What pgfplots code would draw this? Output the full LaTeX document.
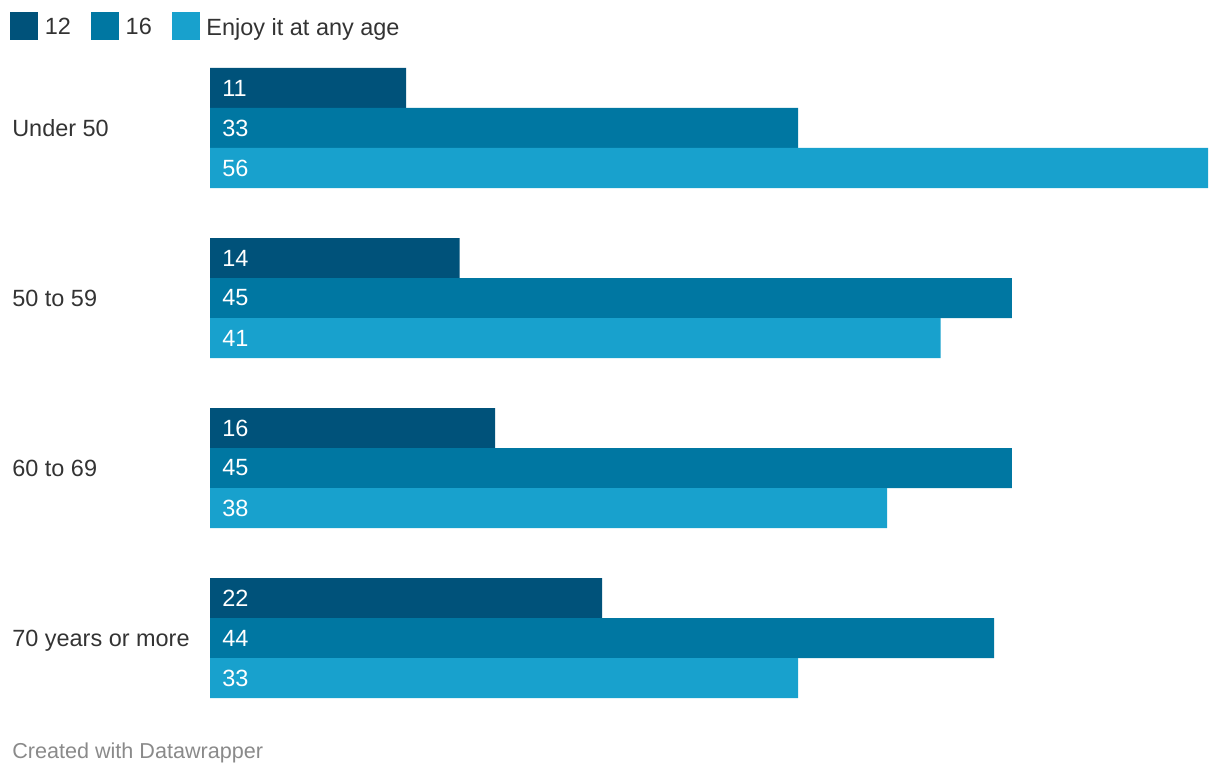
\documentclass[border=0pt]{standalone}
\usepackage{pgfplots}
\pgfplotsset{compat=1.18}
\usepackage{pgfplotstable}
\usepackage{fontspec}
\setmainfont{Liberation Sans}
\definecolor{cA}{HTML}{00527A}
\definecolor{cB}{HTML}{0077A2}
\definecolor{cC}{HTML}{18A1CD}
\definecolor{txt}{HTML}{333333}
\definecolor{foot}{HTML}{8A8A8A}

\pgfplotstableread{
y a b c
-128 11 33 56
-298 14 45 41
-468 16 45 38
-638 22 44 33
}\data

\newcommand{\lblfont}{\fontsize{17.6}{20}\selectfont}

\begin{document}
\begin{tikzpicture}
\begin{axis}[name=ax, scale only axis, width=748.5pt, height=472.5pt,
  xmin=0, xmax=56, ymin=-698, ymax=-68,
  /pgf/number format/assume math mode=true,
  axis line style={draw=none}, tick style={draw=none}, major tick length=0pt,
  xtick=\empty, ytick={-128,-298,-468,-638},
  yticklabels={Under 50,50 to 59,60 to 69,70 years or more},
  yticklabel style={anchor=base west, inner sep=0pt, xshift=-148.5pt, yshift=-6.2pt, font=\lblfont, text=txt},
  clip=false,
  legend style={at={(-0.2004,1.0889)}, anchor=north west, draw=none, fill=none, inner sep=0pt,
    nodes={inner sep=0pt, text=txt, font=\lblfont},
    /tikz/every odd column/.style={column sep=5pt},
    /tikz/every even column/.style={column sep=15pt}},
  legend columns=3,
  legend image code/.code={\fill[#1] (0pt,-9.55pt) rectangle (21pt,11.45pt);},
]
\addplot[xbar, bar width=40, bar shift=40, fill=cA, draw=none] table[x=a, y=y] {\data};
\addplot[xbar, bar width=40, bar shift=0, fill=cB, draw=none] table[x=b, y=y] {\data};
\addplot[xbar, bar width=40, bar shift=-40, fill=cC, draw=none] table[x=c, y=y] {\data};
\legend{12,16,Enjoy it at any age}
\addplot[draw=none, forget plot, nodes near coords, point meta=explicit,
  nodes near coords style={anchor=west, inner sep=0pt, xshift=9pt, text=white, font=\lblfont}]
  table[x expr=0, y expr=\thisrow{y}+40, meta=a] {\data};
\addplot[draw=none, forget plot, nodes near coords, point meta=explicit,
  nodes near coords style={anchor=west, inner sep=0pt, xshift=9pt, text=white, font=\lblfont}]
  table[x expr=0, y=y, meta=b] {\data};
\addplot[draw=none, forget plot, nodes near coords, point meta=explicit,
  nodes near coords style={anchor=west, inner sep=0pt, xshift=9pt, text=white, font=\lblfont}]
  table[x expr=0, y expr=\thisrow{y}-40, meta=c] {\data};
\end{axis}
\node[anchor=base west, inner sep=0pt, text=foot, font=\fontsize{16.2}{19}\selectfont]
  at ([xshift=-148.5pt, yshift=-45pt]ax.south west) {Created with Datawrapper};
\pgfresetboundingbox
\path[use as bounding box] ([xshift=-157.5pt, yshift=-58.5pt]ax.south west) rectangle ([xshift=9pt, yshift=51pt]ax.north east);
\end{tikzpicture}
\end{document}
